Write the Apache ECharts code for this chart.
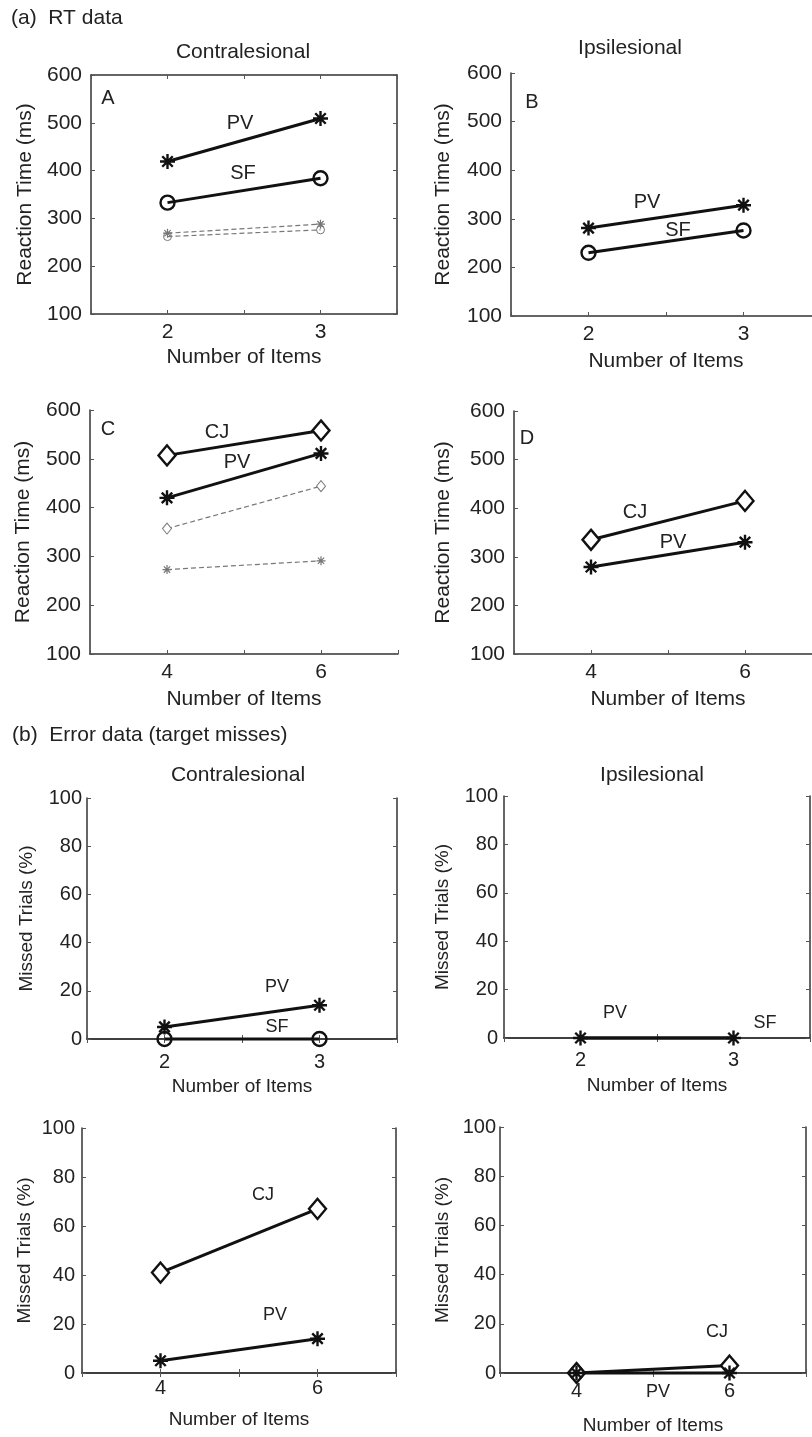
<!DOCTYPE html>
<html>
<head>
<meta charset="utf-8">
<script src="https://cdn.jsdelivr.net/npm/echarts/dist/echarts.min.js"></script>
<style>
html, body { margin: 0; padding: 0; background: #fff; }
#main { width: 812px; height: 1437px; }
</style>
</head>
<body>
<div id="main"></div>
<script>
// x values (number of items)
var itemsSmall = [2, 3];
var itemsLarge = [4, 6];

// (a) RT data, ms
var rtContraPV = [419, 509];
var rtContraSF = [333, 384];
var rtContraPVBase = [269, 288];   // grey dashed
var rtContraSFBase = [262, 276];   // grey dashed
var rtIpsiPV = [281, 328];
var rtIpsiSF = [230, 276];
var rtContraCJ = [507, 558];
var rtContraPV2 = [420, 511];
var rtContraCJBase = [357, 444];   // grey dashed
var rtContraPV2Base = [273, 291];  // grey dashed
var rtIpsiCJ = [335, 415];
var rtIpsiPV2 = [279, 330];

// (b) error data, % missed
var errContraPV = [5, 14];
var errContraSF = [0, 0];
var errIpsiPV = [0, 0];
var errIpsiSF = [0, 0];
var errContraCJ = [41, 67];
var errContraPV2 = [5, 14];
var errIpsiCJ = [0, 3];
var errIpsiPV2 = [0, 0];

var rtTicks = [100, 600, 100];
var errTicks = [0, 100, 20];

var textColor = '#222';
var ink = '#111';
var font = '"Liberation Sans", Arial, Helvetica, sans-serif';
var starPath = 'path://M10,0L10,20M0,10L20,10M3,3L17,17M3,17L17,3';

var grids = [], xAxes = [], yAxes = [], series = [], graphics = [];

function pairs(xs, ys) {
    return xs.map(function (x, i) { return [x, ys[i]]; });
}

function markStyle(kind, grey) {
    var c = grey ? '#777' : ink;
    var w = grey ? 1 : 2.4;
    if (kind === 'star') {
        return { symbol: starPath, symbolSize: grey ? 9 : 15, itemStyle: { color: c, borderColor: c, borderWidth: grey ? 1.2 : 2.4 } };
    }
    if (kind === 'circle') {
        return { symbol: 'circle', symbolSize: grey ? 8 : 14, itemStyle: { color: 'rgba(0,0,0,0)', borderColor: c, borderWidth: w } };
    }
    if (kind === 'diamond') {
        return { symbol: 'diamond', symbolSize: grey ? [9, 11] : [17, 20], itemStyle: { color: '#fff', borderColor: c, borderWidth: w } };
    }
    return { symbol: 'none' };
}

function addPanel(p) {
    var gi = grids.length;
    grids.push({ left: p.left, top: p.top, width: p.width, height: p.height, containLabel: false, outerBoundsMode: 'none' });
    var xi = xAxes.length, yi = yAxes.length;
    var xLabels = p.xs;
    var tickFont = p.small ? 20 : 21;
    var nameFont = p.small ? 19 : 21;
    var axisLine = { show: true, lineStyle: { color: '#333', width: 1.5 } };
    var axisTick = { show: true, inside: true, length: 4, lineStyle: { color: '#555' } };
    xAxes.push({
        type: 'value', gridIndex: gi, min: p.x[0], max: p.x[1], interval: p.x[2],
        axisLine: axisLine, axisTick: axisTick, splitLine: { show: false },
        axisLabel: {
            margin: p.xMargin, color: textColor, fontSize: tickFont, fontFamily: font,
            formatter: function (v) { return xLabels.indexOf(v) >= 0 ? String(v) : ''; }
        },
        name: 'Number of Items', nameLocation: 'middle', nameGap: p.xNameGap,
        nameTextStyle: { color: textColor, fontSize: nameFont, fontFamily: font }
    });
    yAxes.push({
        type: 'value', gridIndex: gi, min: p.y[0], max: p.y[1], interval: p.y[2],
        axisLine: axisLine, axisTick: axisTick, splitLine: { show: false },
        axisLabel: { margin: p.yMargin, color: textColor, fontSize: tickFont, fontFamily: font },
        name: p.yName, nameLocation: 'middle', nameRotate: 90,
        nameGap: p.left - p.yNameX - nameFont / 2,
        nameTextStyle: { color: textColor, fontSize: nameFont, fontFamily: font }
    });
    if (p.box) {
        xAxes.push({
            type: 'value', gridIndex: gi, position: 'top', min: p.x[0], max: p.x[1], interval: p.x[2],
            axisLine: axisLine, axisTick: axisTick, axisLabel: { show: false }, splitLine: { show: false }
        });
        yAxes.push({
            type: 'value', gridIndex: gi, position: 'right', min: p.y[0], max: p.y[1], interval: p.y[2],
            axisLine: axisLine, axisTick: axisTick, axisLabel: { show: false }, splitLine: { show: false }
        });
    }
    p.lines.forEach(function (l) {
        var s = markStyle(l.mark, l.grey);
        series.push({
            type: 'line', xAxisIndex: xi, yAxisIndex: yi, clip: false, animation: false,
            data: pairs(p.xs, l.data),
            symbol: s.symbol, symbolSize: s.symbolSize, itemStyle: s.itemStyle,
            showSymbol: l.mark !== 'none',
            lineStyle: l.grey ? { color: '#777', width: 1.2, type: [5, 3] } : { color: ink, width: 3 },
            z: l.grey ? 2 : 3
        });
    });
}

function addText(text, x, y, size, align) {
    graphics.push({
        type: 'text', x: x, y: y, silent: true,
        style: { text: text, fill: textColor, fontSize: size, fontFamily: font, align: align || 'center', verticalAlign: 'middle' }
    });
}

addPanel({ left: 91, top: 75, width: 306, height: 239, x: [1.5, 3.5, 0.5], xs: itemsSmall, y: rtTicks,
    yName: 'Reaction Time (ms)', yNameX: 25, xMargin: 8, yMargin: 9, xNameGap: 33, box: true,
    lines: [
        { data: rtContraPVBase, mark: 'star', grey: true },
        { data: rtContraSFBase, mark: 'circle', grey: true },
        { data: rtContraPV, mark: 'star' },
        { data: rtContraSF, mark: 'circle' }
    ] });
addPanel({ left: 511, top: 73, width: 310, height: 243, x: [1.5, 3.5, 0.5], xs: itemsSmall, y: rtTicks,
    yName: 'Reaction Time (ms)', yNameX: 443, xMargin: 8, yMargin: 9, xNameGap: 35, box: false,
    lines: [
        { data: rtIpsiPV, mark: 'star' },
        { data: rtIpsiSF, mark: 'circle' }
    ] });
addPanel({ left: 90, top: 410, width: 308, height: 244, x: [3, 7, 1], xs: itemsLarge, y: rtTicks,
    yName: 'Reaction Time (ms)', yNameX: 23, xMargin: 8, yMargin: 9, xNameGap: 35, box: false,
    lines: [
        { data: rtContraCJBase, mark: 'diamond', grey: true },
        { data: rtContraPV2Base, mark: 'star', grey: true },
        { data: rtContraCJ, mark: 'diamond' },
        { data: rtContraPV2, mark: 'star' }
    ] });
addPanel({ left: 514, top: 411, width: 308, height: 243, x: [3, 7, 1], xs: itemsLarge, y: rtTicks,
    yName: 'Reaction Time (ms)', yNameX: 443, xMargin: 8, yMargin: 9, xNameGap: 35, box: false,
    lines: [
        { data: rtIpsiCJ, mark: 'diamond' },
        { data: rtIpsiPV2, mark: 'star' }
    ] });
addPanel({ left: 87, top: 798, width: 310, height: 241, x: [1.5, 3.5, 0.5], xs: itemsSmall, y: errTicks, small: true,
    yName: 'Missed Trials (%)', yNameX: 27, xMargin: 13, yMargin: 5, xNameGap: 38, box: true,
    lines: [
        { data: errContraSF, mark: 'circle' },
        { data: errContraPV, mark: 'star' }
    ] });
addPanel({ left: 504, top: 796, width: 306, height: 242, x: [1.5, 3.5, 0.5], xs: itemsSmall, y: errTicks, small: true,
    yName: 'Missed Trials (%)', yNameX: 443, xMargin: 12, yMargin: 6, xNameGap: 38, box: true,
    lines: [
        { data: errIpsiSF, mark: 'none' },
        { data: errIpsiPV, mark: 'star' }
    ] });
addPanel({ left: 82, top: 1128, width: 314, height: 245, x: [3, 7, 1], xs: itemsLarge, y: errTicks, small: true,
    yName: 'Missed Trials (%)', yNameX: 25, xMargin: 5, yMargin: 7, xNameGap: 37, box: true,
    lines: [
        { data: errContraCJ, mark: 'diamond' },
        { data: errContraPV2, mark: 'star' }
    ] });
addPanel({ left: 500, top: 1127, width: 306, height: 246, x: [3, 7, 1], xs: itemsLarge, y: errTicks, small: true,
    yName: 'Missed Trials (%)', yNameX: 443, xMargin: 8, yMargin: 4, xNameGap: 43, box: true,
    lines: [
        { data: errIpsiCJ, mark: 'diamond' },
        { data: errIpsiPV2, mark: 'star' }
    ] });

// headings and panel titles
addText('(a)  RT data', 11, 18, 21, 'left');
addText('Contralesional', 243, 52, 21);
addText('Ipsilesional', 630, 48, 21);
addText('(b)  Error data (target misses)', 12, 735, 21, 'left');
addText('Contralesional', 238, 775, 21);
addText('Ipsilesional', 652, 775, 21);

// panel letters and line labels
addText('A', 108, 98, 20);
addText('PV', 240, 123, 20);
addText('SF', 243, 173, 20);
addText('B', 532, 102, 20);
addText('PV', 647, 202, 20);
addText('SF', 678, 230, 20);
addText('C', 108, 429, 20);
addText('CJ', 217, 432, 20);
addText('PV', 237, 462, 20);
addText('D', 527, 438, 20);
addText('CJ', 635, 512, 20);
addText('PV', 673, 542, 20);
addText('PV', 277, 987, 18);
addText('SF', 277, 1027, 18);
addText('PV', 615, 1013, 18);
addText('SF', 765, 1023, 18);
addText('CJ', 263, 1195, 18);
addText('PV', 275, 1315, 18);
addText('CJ', 717, 1332, 18);
addText('PV', 658, 1392, 18);

var chart = echarts.init(document.getElementById('main'), null, { renderer: 'canvas' });
chart.setOption({
    backgroundColor: '#fff',
    animation: false,
    grid: grids,
    xAxis: xAxes,
    yAxis: yAxes,
    series: series,
    graphic: graphics
});
</script>
</body>
</html>
